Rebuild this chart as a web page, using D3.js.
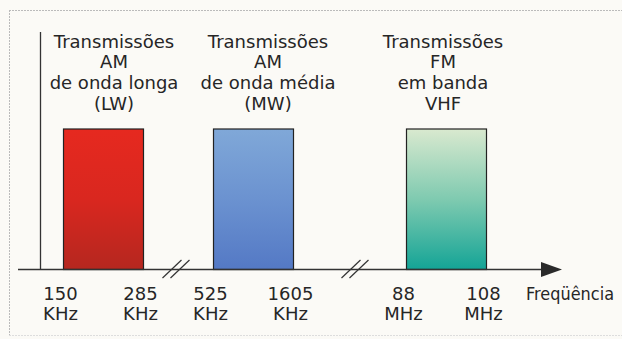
<!DOCTYPE html>
<html>
<head>
<meta charset="utf-8">
<script src="https://cdn.jsdelivr.net/npm/d3@7"></script>
<style>
  body { margin: 0; background: #fbfaf6; }
  svg { display: block; }
  text { font-family: "DejaVu Sans", sans-serif; fill: #262626; }
</style>
</head>
<body>
<div id="chart"></div>
<script>
/* ---------------- data ---------------- */
const bands = ["LW", "MW", "FM"];
const bandTitles = [
    ["Transmissões", "AM", "de onda longa", "(LW)"],
    ["Transmissões", "AM", "de onda média", "(MW)"],
    ["Transmissões", "FM", "em banda", "VHF"]
];
const lowFreq = ["150", "525", "88"];
const highFreq = ["285", "1605", "108"];
const units = ["KHz", "KHz", "MHz"];
const level = [1, 1, 1];   // every band drawn at the same height
const axisLabel = "Freqüência";

/* ---------------- svg ---------------- */
let width = 622, height = 339;
let svg = d3.select("#chart").append("svg")
    .attr("width", width).attr("height", height);

// broken axis: each band gets its own slot, gaps are not to scale
const x0 = 63.5, barW = 80, gaps = [70, 113];
let edgePx = [];
let cur = x0;
bands.forEach((b, i) => {
    edgePx.push(cur, cur + barW);
    cur += barW + (gaps[i] || 0);
});
let x = d3.scaleLinear().domain(d3.range(edgePx.length)).range(edgePx);

let axisY = 269.5;
let y = d3.scaleLinear().domain([0, 1]).range([axisY, 129]);

// frame
svg.append("line").attr("x1", 9).attr("x2", width).attr("y1", 10.5).attr("y2", 10.5)
    .attr("stroke", "#bbb").attr("stroke-dasharray", "2,1");
svg.append("line").attr("x1", 9.5).attr("x2", 9.5).attr("y1", 10).attr("y2", 336)
    .attr("stroke", "#bbb").attr("stroke-dasharray", "2,1");
svg.append("line").attr("x1", 9).attr("x2", width).attr("y1", 335.5).attr("y2", 335.5)
    .attr("stroke", "#ddd").attr("stroke-dasharray", "2,1");

// gradients
const grads = [
    ["#e6291f", "#d9271f", "#b5271f"],
    ["#80a8d8", "#6b92d0", "#5479c5"],
    ["#d9e9cf", "#7fcab0", "#14a496"]
];
let defs = svg.append("defs");
bands.forEach((b, i) => {
    let g = defs.append("linearGradient").attr("id", "g" + b)
        .attr("x1", 0).attr("x2", 0).attr("y1", 0).attr("y2", 1);
    grads[i].forEach((c, k) => g.append("stop")
        .attr("offset", k / (grads[i].length - 1)).attr("stop-color", c));
});

// bars
svg.selectAll(".bar").data(bands).enter().append("rect")
    .attr("class", "bar")
    .attr("x", (d, i) => x(2 * i))
    .attr("width", (d, i) => x(2 * i + 1) - x(2 * i))
    .attr("y", (d, i) => y(level[i]))
    .attr("height", (d, i) => y(0) - y(level[i]))
    .attr("fill", d => `url(#g${d})`)
    .attr("stroke", "#222").attr("stroke-width", 1.2);

// axes
svg.append("line").attr("x1", 40.5).attr("x2", 40.5).attr("y1", 32).attr("y2", axisY)
    .attr("stroke", "#333").attr("stroke-width", 1.3);
svg.append("line").attr("x1", 18).attr("x2", 545).attr("y1", axisY).attr("y2", axisY)
    .attr("stroke", "#333").attr("stroke-width", 1.5);
svg.append("path")
    .attr("d", `M541,${axisY - 7.5} L562,${axisY} L541,${axisY + 7.5} Z`)
    .attr("fill", "#2a2a2a");

// axis break marks
const breakShift = [-2.5, 5];
gaps.forEach((g, i) => {
    let cx = (x(2 * i + 1) + x(2 * i + 2)) / 2 + breakShift[i];
    [-4, 4].forEach(o => {
        svg.append("line")
            .attr("x1", cx + o - 9.5).attr("y1", axisY + 8.5)
            .attr("x2", cx + o + 9.5).attr("y2", axisY - 9.5)
            .attr("stroke", "#333").attr("stroke-width", 1.2);
    });
});

// tick labels
let tickText = [];
bands.forEach((b, i) => {
    tickText.push({ pos: 2 * i, v: lowFreq[i], u: units[i] });
    tickText.push({ pos: 2 * i + 1, v: highFreq[i], u: units[i] });
});
let ticks = svg.selectAll(".tick").data(tickText).enter().append("g")
    .attr("class", "tick")
    .attr("transform", d => `translate(${x(d.pos) - 3},0)`);
ticks.append("text").attr("y", 300).attr("text-anchor", "middle")
    .style("font-size", "18px").text(d => d.v);
ticks.append("text").attr("y", 320).attr("text-anchor", "middle")
    .style("font-size", "18px").text(d => d.u);

svg.append("text").attr("x", 526).attr("y", 300)
    .style("font-size", "17px")
    .attr("textLength", 88).attr("lengthAdjust", "spacingAndGlyphs")
    .text(axisLabel);

// band titles
const titleShift = [10.5, 14.5, -3.5];
bands.forEach((b, i) => {
    let cx = (x(2 * i) + x(2 * i + 1)) / 2 + titleShift[i];
    let t = svg.append("text").attr("text-anchor", "middle")
        .style("font-size", "18px");
    bandTitles[i].forEach((line, k) => {
        t.append("tspan").attr("x", cx).attr("y", 47.5 + k * 20.7).text(line);
    });
});
</script>
</body>
</html>
